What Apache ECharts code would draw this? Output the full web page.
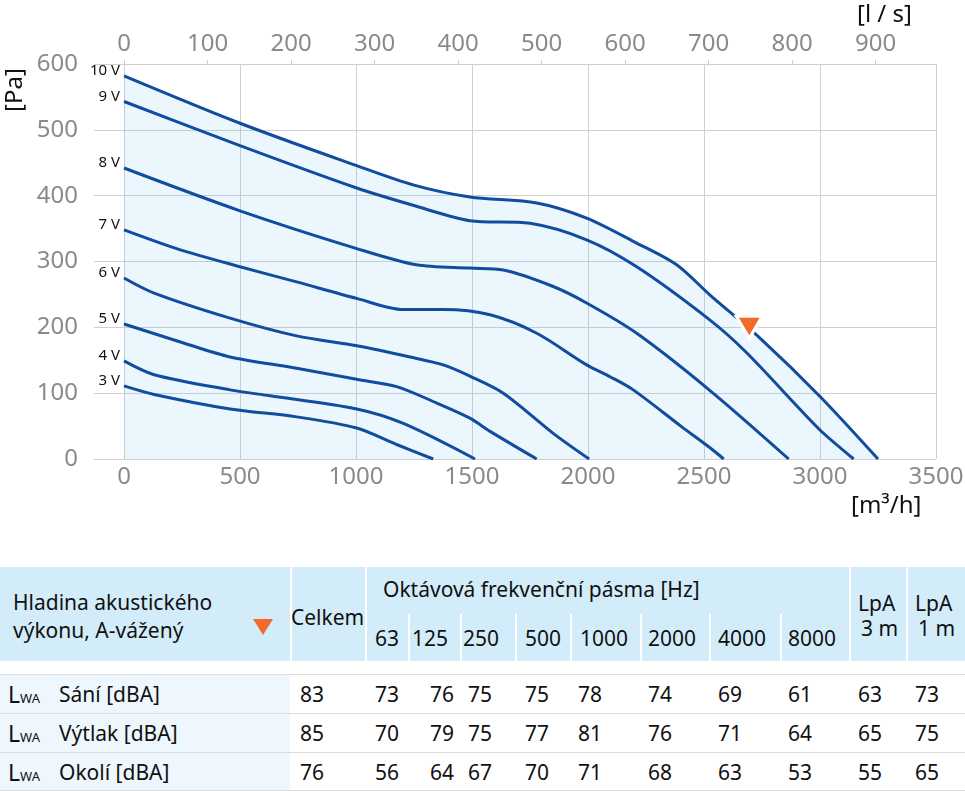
<!DOCTYPE html>
<html>
<head>
<meta charset="utf-8">
<script src="https://cdn.jsdelivr.net/npm/echarts@6/dist/echarts.min.js"></script>
<style>
    body { margin: 0; background: #fff; font-family: "Noto Sans", sans-serif; }
    #chart { position: absolute; left: 0; top: 0; width: 965px; height: 540px; }
    #table { position: absolute; left: 0; top: 567px; width: 965px; height: 224px; }
    .t { position: absolute; white-space: nowrap; color: #111; }
    .box { position: absolute; }
</style>
</head>
<body>
<div id="chart"></div>
<div id="table"></div>
<script>
// ------------------ chart data ------------------
const curveNames = ['10 V', '9 V', '8 V', '7 V', '6 V', '5 V', '4 V', '3 V'];
// [m3/h, Pa]
const curve10 = [[0, 582], [500, 510], [1000, 446], [1250, 416], [1491, 398], [1779, 389], [1994, 366], [2210, 328], [2382, 295], [2526, 249], [2740, 184], [3000, 95], [3250, 0]];
const curve9 = [[0, 543], [500, 476], [1000, 412], [1250, 385], [1491, 362], [1750, 358], [1994, 333], [2210, 292], [2526, 211], [2685, 161], [3000, 44], [3145, 0]];
const curve8 = [[0, 442], [500, 377], [1000, 320], [1260, 295], [1491, 290], [1635, 287], [1850, 262], [1994, 237], [2210, 191], [2526, 104], [2865, 0]];
const curve7 = [[0, 348], [240, 318], [500, 292], [744, 269], [1003, 244], [1204, 227], [1376, 227], [1578, 219], [1779, 191], [1994, 143], [2095, 125], [2195, 105], [2400, 50], [2526, 17], [2585, 0]];
const curve6 = [[0, 275], [130, 252], [457, 214], [744, 187], [1003, 172], [1233, 155], [1376, 143], [1491, 126], [1635, 100], [1850, 39], [2005, 0]];
const curve5 = [[0, 205], [250, 177], [457, 155], [744, 138], [1003, 121], [1175, 110], [1348, 85], [1491, 62], [1578, 42], [1779, 0]];
const curve4 = [[0, 149], [130, 128], [457, 105], [629, 96], [1003, 76], [1204, 54], [1513, 0]];
const curve3 = [[0, 111], [130, 98], [457, 76], [744, 64], [1003, 47], [1175, 22], [1333, 0]];
const curves = [curve10, curve9, curve8, curve7, curve6, curve5, curve4, curve3];
const workPoint = [[2695, 200]];

// ------------------ table data ------------------
const headLines = ['Hladina akustického', 'výkonu, A-vážený'];
const totalHead = 'Celkem';
const bandHead = 'Oktávová frekvenční pásma [Hz]';
const bands = ['63', '125', '250', '500', '1000', '2000', '4000', '8000'];
const lpaHeads = [['LpA', '3 m'], ['LpA', '1 m']];
const rowNames = ['Sání [dBA]', 'Výtlak [dBA]', 'Okolí [dBA]'];
const rowTotal = [83, 85, 76];
const rowSani = [73, 76, 75, 75, 78, 74, 69, 61];
const rowVytlak = [70, 79, 75, 77, 81, 76, 71, 64];
const rowOkoli = [56, 64, 67, 70, 71, 68, 63, 53];
const rowLpa3 = [63, 65, 55];
const rowLpa1 = [73, 75, 65];

const LINE_COLOR = '#114c9e';
const GRID_COLOR = '#cfcfcf';
const LABEL_GRAY = '#8a8a8a';
const ORANGE = '#f26b29';

let myChart = echarts.init(document.getElementById('chart'), null, {renderer: 'canvas'});

let series = [];
for (let i = 0; i < curves.length; i++) {
    let s = {
        name: curveNames[i],
        type: 'line',
        xAxisIndex: 0,
        yAxisIndex: 0,
        data: curves[i],
        smooth: 0.3,
        showSymbol: false,
        symbol: 'none',
        silent: true,
        lineStyle: {color: LINE_COLOR, width: 3},
        z: 3,
        markPoint: {
            symbol: 'circle',
            symbolSize: 0,
            silent: true,
            data: [{
                coord: curves[i][0],
                label: {
                    show: true,
                    position: 'left',
                    distance: 4,
                    offset: [0, -5],
                    formatter: curveNames[i],
                    color: '#111',
                    fontSize: 15,
                    fontFamily: 'Noto Sans'
                }
            }]
        }
    };
    if (i === 0) {
        s.areaStyle = {color: 'rgba(110,195,240,0.2)', origin: 'start'};
    }
    series.push(s);
}
series.push({
    type: 'scatter',
    xAxisIndex: 0,
    yAxisIndex: 0,
    data: workPoint,
    symbol: 'triangle',
    symbolRotate: 180,
    symbolSize: [26, 22],
    itemStyle: {color: ORANGE, borderColor: '#fff', borderWidth: 3, opacity: 1},
    z: 5,
    silent: true
});

function plainNum(v) {
    return String(Math.round(v));
}

let option = {
    animation: false,
    backgroundColor: '#fff',
    textStyle: {fontFamily: 'Noto Sans'},
    grid: [
        {left: 124, top: 64, width: 812, height: 395, outerBoundsMode: 'none'},
        {left: 94, top: 64, width: 842, height: 395, outerBoundsMode: 'none'}
    ],
    xAxis: [
        {
            gridIndex: 0, type: 'value', position: 'bottom',
            min: 0, max: 3500, interval: 500,
            axisLine: {show: false}, axisTick: {show: false},
            splitLine: {show: true, lineStyle: {color: GRID_COLOR, width: 1}},
            axisLabel: {color: LABEL_GRAY, fontSize: 24, margin: 6, hideOverlap: false, formatter: plainNum}
        },
        {
            gridIndex: 0, type: 'value', position: 'top',
            min: 0, max: 3500 / 3.6, interval: 100,
            axisLine: {show: false},
            axisTick: {show: true, inside: false, length: 4, lineStyle: {color: GRID_COLOR}},
            splitLine: {show: false},
            axisLabel: {color: LABEL_GRAY, fontSize: 24, margin: 8, showMaxLabel: false, hideOverlap: false, formatter: plainNum}
        },
        {gridIndex: 1, type: 'value', min: 0, max: 1, show: false}
    ],
    yAxis: [
        {
            gridIndex: 0, type: 'value', min: 0, max: 600, interval: 100,
            axisLine: {show: false}, axisTick: {show: false},
            axisLabel: {show: false}, splitLine: {show: false}
        },
        {
            gridIndex: 1, type: 'value', min: 0, max: 600, interval: 100,
            axisLine: {show: false}, axisTick: {show: false},
            splitLine: {show: true, lineStyle: {color: GRID_COLOR, width: 1}},
            axisLabel: {color: LABEL_GRAY, fontSize: 24, margin: 16}
        }
    ],
    graphic: [
        {
            type: 'text', x: 15, y: 90, rotation: Math.PI / 2,
            style: {text: '[Pa]', font: '24px "Noto Sans"', fill: '#111', textAlign: 'center', textVerticalAlign: 'middle'}
        },
        {
            type: 'text', x: 857, y: 15,
            style: {text: '[l / s]', font: '24px "Noto Sans"', fill: '#111', textAlign: 'left', textVerticalAlign: 'middle'}
        },
        {
            type: 'text', x: 851, y: 506,
            style: {text: '[m³/h]', font: '24px "Noto Sans"', fill: '#111', textAlign: 'left', textVerticalAlign: 'middle'}
        }
    ],
    series: series
};
myChart.setOption(option, true);

// ------------------ table ------------------
const TABLE_TOP = 567;
const HEAD_BG = '#d3ecfa';
const FIRST_COL_BG = '#eef7fd';
const ROW_LINE = '#dcdcdc';
let tableEl = document.getElementById('table');

function addBox(x, y, w, h, bg) {
    let d = document.createElement('div');
    d.className = 'box';
    d.style.left = x + 'px';
    d.style.top = (y - TABLE_TOP) + 'px';
    d.style.width = w + 'px';
    d.style.height = h + 'px';
    d.style.background = bg;
    tableEl.appendChild(d);
    return d;
}

function addText(x, cy, html, size) {
    let d = document.createElement('div');
    d.className = 't';
    d.style.left = x + 'px';
    d.style.top = (cy - TABLE_TOP - 15) + 'px';
    d.style.lineHeight = '30px';
    d.style.fontSize = size + 'px';
    d.innerHTML = html;
    tableEl.appendChild(d);
    return d;
}

// header background and separators
addBox(0, 567, 965, 94, HEAD_BG);
[290, 365, 849, 906].forEach(function (x) {
    addBox(x, 567, 2, 94, '#fff');
});
[408, 460, 515, 570, 640, 709, 780].forEach(function (x) {
    addBox(x, 614, 2, 47, '#fff');
});

// first column background of data rows
addBox(0, 674, 290, 117, FIRST_COL_BG);
[674, 713, 752, 790].forEach(function (y) {
    addBox(0, y, 965, 1, ROW_LINE);
});

// header texts
const HEAD_SIZE = 21;
addText(13, 602, headLines[0], HEAD_SIZE);
addText(13, 630, headLines[1], HEAD_SIZE);
let tri = addBox(253, 619, 0, 0, 'transparent');
tri.style.borderLeft = '10px solid transparent';
tri.style.borderRight = '10px solid transparent';
tri.style.borderTop = '16px solid ' + ORANGE;

addText(291, 617, totalHead, HEAD_SIZE);
addText(383, 589, bandHead, HEAD_SIZE);
const bandX = [375, 412, 463, 525, 580, 648, 718, 788];
for (let i = 0; i < bands.length; i++) {
    addText(bandX[i], 638, bands[i], HEAD_SIZE);
}
addText(858, 603, lpaHeads[0][0], HEAD_SIZE);
addText(861, 628, lpaHeads[0][1], HEAD_SIZE);
addText(915, 603, lpaHeads[1][0], HEAD_SIZE);
addText(918, 628, lpaHeads[1][1], HEAD_SIZE);

// data rows
const ROW_SIZE = 21;
const rowY = [694, 733, 772];
const bandRows = [rowSani, rowVytlak, rowOkoli];
const valueX = [300, 375, 430, 468, 525, 578, 648, 718, 788, 858, 915];
for (let r = 0; r < rowNames.length; r++) {
    addText(8, rowY[r], '<span style="font-size:23px">L</span><span style="font-size:13px">WA</span>', ROW_SIZE);
    addText(59, rowY[r], rowNames[r], ROW_SIZE);
    let vals = [rowTotal[r]].concat(bandRows[r]).concat([rowLpa3[r], rowLpa1[r]]);
    for (let c = 0; c < vals.length; c++) {
        addText(valueX[c], rowY[r], String(vals[c]), ROW_SIZE);
    }
}
</script>
</body>
</html>
